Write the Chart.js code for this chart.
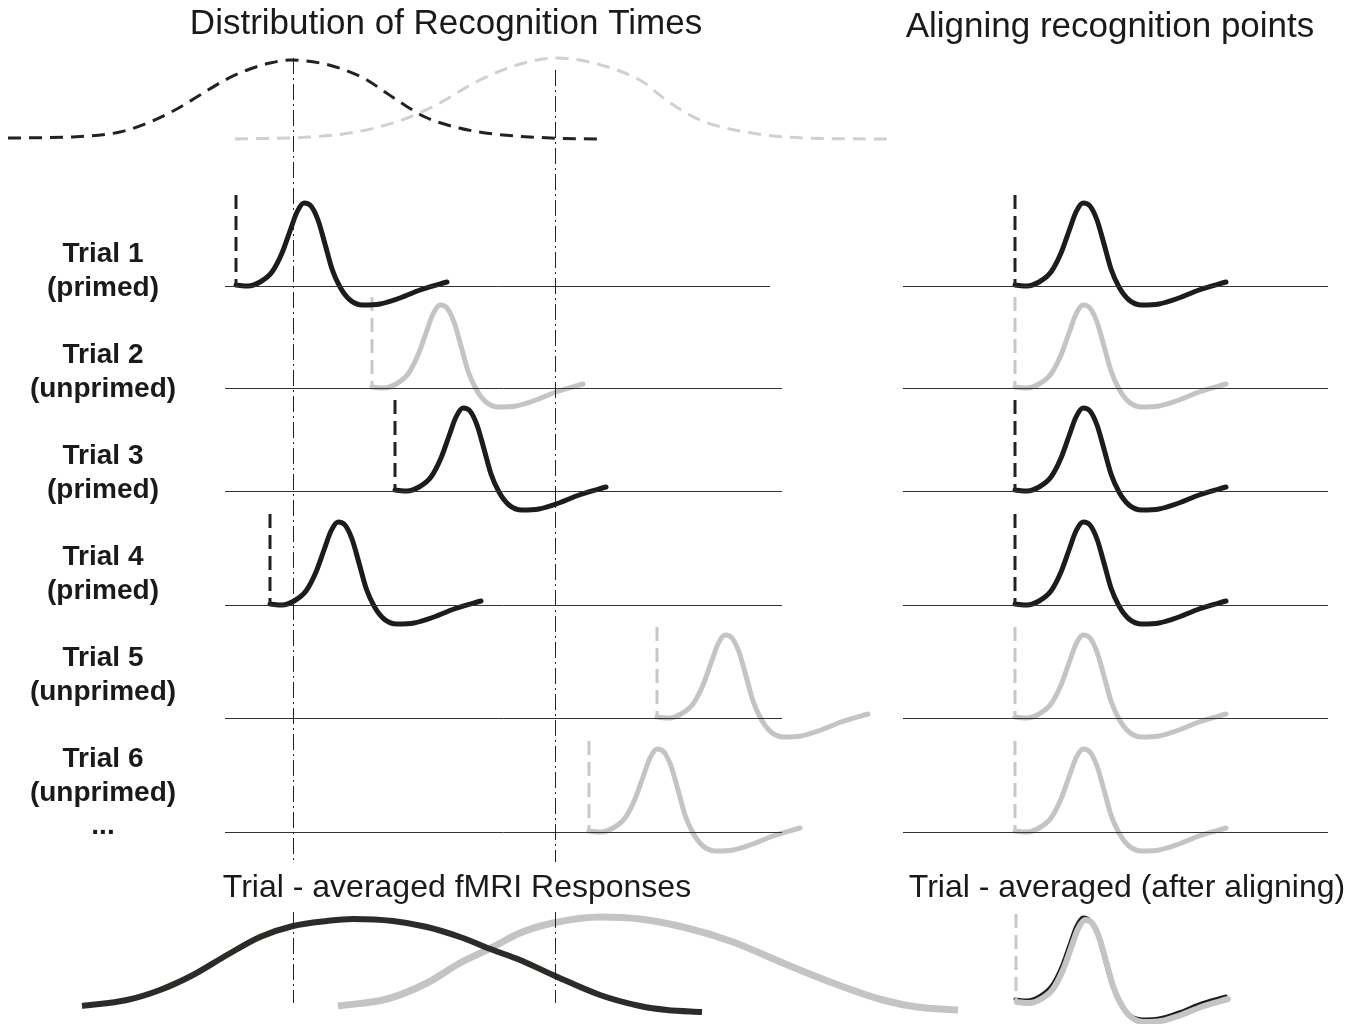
<!DOCTYPE html>
<html>
<head>
<meta charset="utf-8">
<script src="https://cdn.jsdelivr.net/npm/chart.js@4.4.1/dist/chart.umd.min.js"></script>
<style>
  html, body { margin: 0; padding: 0; background: #fff; }
  #wrap { width: 1365px; height: 1024px; }
</style>
</head>
<body>
<div id="wrap"><canvas id="chart" width="1365" height="1024"></canvas></div>
<script>
// distribution of recognition times (top, dashed)
const primedDistX = [8, 70, 120, 150, 175, 200, 225, 250, 270, 290, 320, 345, 367, 385, 400, 425, 459, 494, 551, 600];
const primedDistY = [138, 137, 132, 122, 110, 95, 80, 69, 63, 60, 63, 70, 80, 92, 102, 117, 128, 134, 138, 139];
const unprimedDistX = [235, 310, 356, 402, 436, 476, 517, 557, 608, 643, 666, 700, 752, 804, 887];
const unprimedDistY = [139, 137, 132, 120, 105, 82, 65, 58, 67, 82, 100, 120, 133, 138, 139];

// mean recognition times (dash-dot markers)
const meanRT = [293, 555];

// single trial response shape: time after recognition / amplitude above baseline
const hrfDx = [0, 12, 24, 36, 46, 54, 61, 68, 75, 82, 89, 96, 104, 114, 127, 144, 164, 184, 211];
const hrfDy = [1, 0, 4, 14, 33, 55, 74, 83, 80, 66, 42, 17, -1, -14, -19, -18, -12, -4, 4];

// trials
const trialNames = ['Trial 1', 'Trial 2', 'Trial 3', 'Trial 4', 'Trial 5', 'Trial 6'];
const trialConditions = ['(primed)', '(unprimed)', '(primed)', '(primed)', '(unprimed)', '(unprimed)'];
const trialPrimed = [true, false, true, true, false, false];
const trialOnsets = [236, 372, 395, 270, 657, 589];
const trialBaselines = [286, 388, 491, 605, 718, 832];
const alignedOnset = 1015;

// trial-averaged responses (bottom left)
const avgPrimedX = [82, 127, 160, 193, 227, 260, 293, 327, 353, 393, 427, 460, 493, 520, 553, 600, 640, 667, 702];
const avgPrimedY = [1006, 1000, 990, 975, 955, 937, 926, 921, 919, 921, 927, 937, 950, 960, 975, 995, 1006, 1010, 1012];
const avgUnprimedX = [338, 387, 427, 460, 493, 520, 553, 600, 640, 687, 733, 783, 833, 883, 917, 958];
const avgUnprimedY = [1006, 999, 983, 963, 947, 933, 923, 917, 919, 928, 942, 963, 983, 1000, 1007, 1010];
const alignedAvgBaseline = 1000;

const BLACK = '#1c1c1c';
const GRAY = '#c4c4c4';

function pts(xs, ys) {
  return xs.map((x, i) => ({ x: x, y: ys[i] }));
}

function line(data, style) {
  return Object.assign({
    data: data,
    showLine: true,
    pointRadius: 0,
    fill: false,
    cubicInterpolationMode: 'monotone',
    borderCapStyle: 'butt',
    borderJoinStyle: 'round'
  }, style);
}

function straight(x1, y1, x2, y2, style) {
  return line([{ x: x1, y: y1 }, { x: x2, y: y2 }], Object.assign({ tension: 0, cubicInterpolationMode: 'default' }, style));
}

const datasets = [];

// top distributions
datasets.push(line(pts(unprimedDistX, unprimedDistY), { borderColor: '#d0d0d0', borderWidth: 3, borderDash: [13, 8] }));
datasets.push(line(pts(primedDistX, primedDistY), { borderColor: '#222', borderWidth: 3, borderDash: [13, 8] }));

// dash-dot mean lines (half pixel offset keeps them crisp)
const dashDot = { borderColor: '#222', borderWidth: 1, borderDash: [16, 4, 2, 4] };
meanRT.forEach((m, i) => {
  datasets.push(straight(m + 0.5, i === 0 ? 58 : 70, m + 0.5, 862, dashDot));
  datasets.push(straight(m + 0.5, 912, m + 0.5, 1003, dashDot));
});

// trial rows
trialBaselines.forEach((b, i) => {
  const col = trialPrimed[i] ? BLACK : GRAY;
  const dashCol = trialPrimed[i] ? '#222' : '#c8c8c8';
  // baselines
  datasets.push(straight(225, b + 0.5, i === 0 ? 770 : 782, b + 0.5, { borderColor: '#333', borderWidth: 1 }));
  datasets.push(straight(903, b + 0.5, 1328, b + 0.5, { borderColor: '#333', borderWidth: 1 }));
  // recognition points and responses
  [trialOnsets[i], alignedOnset].forEach(on => {
    datasets.push(straight(on, b - 91, on, b, { borderColor: dashCol, borderWidth: 3, borderDash: [14, 7] }));
    datasets.push(line(pts(hrfDx.map(d => on + d), hrfDy.map(a => b - a)),
      { borderColor: col, borderWidth: 5, borderCapStyle: 'round' }));
  });
});

// bottom left averages
datasets.push(line(pts(avgPrimedX, avgPrimedY), { borderColor: '#2b2b28', borderWidth: 6 }));
datasets.push(line(pts(avgUnprimedX, avgUnprimedY), { borderColor: GRAY, borderWidth: 7 }));

// bottom right aligned average
datasets.push(straight(alignedOnset + 1, alignedAvgBaseline - 86, alignedOnset + 1, alignedAvgBaseline,
  { borderColor: '#c8c8c8', borderWidth: 3, borderDash: [14, 7] }));
datasets.push(line(pts(hrfDx.map(d => alignedOnset + 2 + d), hrfDy.map(a => alignedAvgBaseline + 3 - a)),
  { borderColor: GRAY, borderWidth: 6, borderCapStyle: 'round' }));
datasets.push(line(pts(hrfDx.map(d => alignedOnset + d), hrfDy.map(a => alignedAvgBaseline - a)),
  { borderColor: BLACK, borderWidth: 3, borderCapStyle: 'round' }));

// texts drawn on top
const panelTitles = ['Distribution of Recognition Times', 'Aligning recognition points',
  'Trial - averaged fMRI Responses', 'Trial - averaged (after aligning)'];

const textPlugin = {
  id: 'figureText',
  afterDatasetsDraw(chart) {
    const ctx = chart.ctx;
    const sx = chart.scales.x, sy = chart.scales.y;
    const put = (t, x, y) => ctx.fillText(t, sx.getPixelForValue(x), sy.getPixelForValue(y));
    ctx.save();
    ctx.fillStyle = '#1a1a1a';
    ctx.textAlign = 'center';
    ctx.textBaseline = 'middle';
    ctx.font = '35px "Liberation Sans", Arial, sans-serif';
    put(panelTitles[0], 446, 24);
    put(panelTitles[1], 1110, 27);
    ctx.font = '32px "Liberation Sans", Arial, sans-serif';
    put(panelTitles[2], 457, 888);
    put(panelTitles[3], 1127, 888);
    ctx.font = 'bold 28px "Liberation Sans", Arial, sans-serif';
    trialNames.forEach((n, i) => {
      put(n, 103, 254 + i * 101);
      put(trialConditions[i], 103, 288 + i * 101);
    });
    put('...', 103, 826);
    ctx.restore();
  }
};

const config = {
  type: 'scatter',
  data: { datasets: datasets },
  options: {
    responsive: false,
    animation: false,
    layout: { padding: 0 },
    scales: {
      x: { type: 'linear', min: 0, max: 1365, display: false },
      y: { type: 'linear', min: 0, max: 1024, reverse: true, display: false }
    },
    plugins: { legend: { display: false }, tooltip: { enabled: false } }
  },
  plugins: [textPlugin]
};

const ctx = document.getElementById('chart').getContext('2d');
const chart = new Chart(ctx, config);
</script>
</body>
</html>
